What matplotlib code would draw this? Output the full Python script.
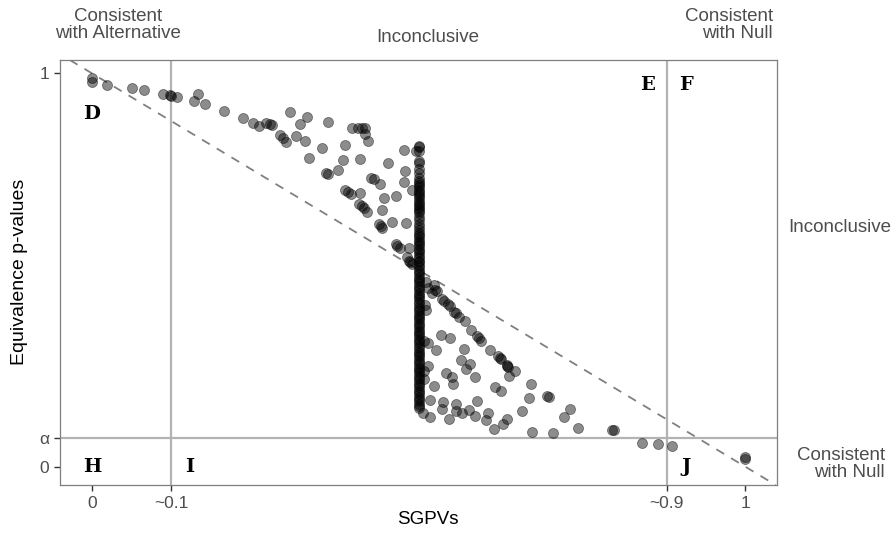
import matplotlib
matplotlib.use("Agg")
import matplotlib.pyplot as plt

plt.rcParams['font.family'] = ['Liberation Sans', 'DejaVu Sans']

# scattered points (SGPV, equivalence p-value)
sgpv = [0.0, 0.0, 0.0225, 0.061, 0.080, 0.109, 0.119, 0.121, 0.130, 0.163, 0.156, 0.173, 0.202,
        0.231, 0.246, 0.256, 0.266, 0.272, 0.276, 0.303, 0.330, 0.318, 0.288, 0.293, 0.297, 0.313,
        0.326, 0.361, 0.398, 0.408, 0.414, 0.418, 0.418, 0.422, 0.387, 0.352, 0.333, 0.385, 0.410,
        0.359, 0.361, 0.377, 0.478, 0.454, 0.479, 0.428, 0.432, 0.441, 0.478, 0.388, 0.392, 0.396,
        0.410, 0.447, 0.466, 0.409, 0.413, 0.416, 0.421, 0.444, 0.440, 0.442, 0.444, 0.459, 0.481,
        0.496, 0.490, 0.465, 0.467, 0.472, 0.485, 0.482, 0.485, 0.487, 0.490,
        0.523, 0.520, 0.526, 0.528, 0.536, 0.539, 0.545, 0.548, 0.555, 0.558, 0.562, 0.571, 0.581,
        0.589, 0.592, 0.595, 0.610, 0.622, 0.625, 0.627, 0.635, 0.636, 0.637, 0.648, 0.638,
        0.511, 0.515, 0.510, 0.511,
        0.534, 0.549, 0.508, 0.515, 0.527, 0.570, 0.565, 0.579, 0.573, 0.542, 0.551, 0.553, 0.587,
        0.515, 0.508, 0.508, 0.523, 0.617, 0.627, 0.672, 0.669, 0.697, 0.700, 0.518, 0.538, 0.558,
        0.589, 0.507, 0.518, 0.536, 0.546, 0.557, 0.566, 0.577, 0.587, 0.607, 0.603, 0.616, 0.630,
        0.636, 0.658, 0.674, 0.706, 0.723, 0.732, 0.745, 0.797, 0.800, 0.842, 0.866, 0.888, 1.0, 1.0]
pval = [0.987, 0.977, 0.970, 0.962, 0.957, 0.947, 0.944, 0.942, 0.941, 0.947, 0.930, 0.921, 0.905,
        0.886, 0.875, 0.867, 0.875, 0.871, 0.868, 0.902, 0.890, 0.871, 0.843, 0.835, 0.826, 0.841,
        0.828, 0.877, 0.860, 0.862, 0.862, 0.860, 0.846, 0.828, 0.819, 0.809, 0.784, 0.780, 0.781,
        0.747, 0.745, 0.754, 0.805, 0.773, 0.752, 0.735, 0.731, 0.718, 0.724, 0.704, 0.698, 0.693,
        0.695, 0.684, 0.688, 0.669, 0.663, 0.657, 0.648, 0.652, 0.616, 0.612, 0.607, 0.621, 0.619,
        0.803, 0.703, 0.566, 0.561, 0.555, 0.557, 0.534, 0.523, 0.519, 0.514,
        0.462, 0.441, 0.450, 0.447, 0.426, 0.422, 0.413, 0.409, 0.394, 0.390, 0.381, 0.369, 0.347,
        0.331, 0.327, 0.320, 0.297, 0.280, 0.276, 0.273, 0.258, 0.256, 0.254, 0.242, 0.229,
        0.470, 0.455, 0.411, 0.398,
        0.335, 0.326, 0.320, 0.314, 0.297, 0.299, 0.271, 0.260, 0.248, 0.239, 0.227, 0.209, 0.227,
        0.256, 0.243, 0.222, 0.205, 0.203, 0.192, 0.209, 0.174, 0.180, 0.176, 0.170, 0.163, 0.159,
        0.167, 0.137, 0.127, 0.146, 0.121, 0.140, 0.136, 0.144, 0.129, 0.137, 0.119, 0.096, 0.109,
        0.120, 0.140, 0.089, 0.086, 0.127, 0.146, 0.098, 0.094, 0.092, 0.059, 0.058, 0.053, 0.023, 0.019]

# the stack of results with SGPV = 0.5
col_pval = [0.815, 0.812, 0.803, 0.776, 0.773, 0.756, 0.747,
            0.733, 0.727, 0.721, 0.716, 0.710, 0.704, 0.699, 0.693, 0.688, 0.682, 0.676, 0.671,
            0.665, 0.660, 0.654, 0.649, 0.644, 0.635, 0.626, 0.618, 0.609,
            0.601, 0.595, 0.589, 0.583, 0.577, 0.571, 0.566, 0.560, 0.554, 0.548, 0.542, 0.536,
            0.530, 0.524, 0.519, 0.513, 0.507, 0.501, 0.495, 0.489, 0.483, 0.477, 0.472, 0.466,
            0.460, 0.454, 0.448, 0.442, 0.436, 0.430, 0.425, 0.419, 0.413, 0.407, 0.401, 0.395,
            0.389, 0.383, 0.378, 0.372, 0.366, 0.360, 0.354, 0.348, 0.342, 0.336, 0.331, 0.325,
            0.319, 0.313, 0.307, 0.301, 0.295, 0.289, 0.284, 0.278, 0.272, 0.266, 0.260, 0.254,
            0.248, 0.242, 0.237, 0.231, 0.225, 0.219, 0.213, 0.207, 0.201, 0.195, 0.190, 0.184,
            0.178, 0.172, 0.166, 0.160, 0.155, 0.150]
col_sgpv = [0.5] * len(col_pval)

alpha_level = 0.072
sgpv_low, sgpv_high = 0.121, 0.88
x_ticks = [0, sgpv_low, sgpv_high, 1]
x_labels = ['0', '~0.1', '~0.9', '1']
y_ticks = [0, alpha_level, 1]
y_labels = ['0', 'α', '1']

regions = ['D', 'E', 'F', 'H', 'I', 'J']
region_x = [0.0, 0.85, 0.91, 0.0, 0.15, 0.91]
region_y = [0.897, 0.971, 0.971, 0.0, 0.0, 0.0]

fig = plt.figure(figsize=(8.93, 5.4), dpi=100)
ax = fig.add_axes([60/893, 1 - 485/540, 717/893, 425/540])

ref_col = '#b3b3b3'
ax.axvline(sgpv_low, color=ref_col, lw=1.6, zorder=1)
ax.axvline(sgpv_high, color=ref_col, lw=1.6, zorder=1)
ax.axhline(alpha_level, color=ref_col, lw=1.6, zorder=1)
ax.axline((0, 1), slope=-1, color='#808080', lw=1.3, dashes=(5, 4.5), zorder=1)

ax.scatter(sgpv + col_sgpv, pval + col_pval, s=52, facecolor='black', edgecolor='black',
           linewidths=0.6, alpha=0.45, zorder=2)

for lab, x, y in zip(regions, region_x, region_y):
    ax.text(x, y, lab, family='DejaVu Serif', fontweight='heavy', fontsize=14,
            ha='center', va='center', zorder=3)

ax.set_xlim(-0.049, 1.049)
ax.set_ylim(-0.047, 1.034)
ax.set_xticks(x_ticks)
ax.set_xticklabels(x_labels)
ax.set_yticks(y_ticks)
ax.set_yticklabels(y_labels)
ax.tick_params(length=4, width=1, color='#333333', labelcolor='#4d4d4d', labelsize=12.5, pad=4)
for sp in ax.spines.values():
    sp.set_color('#7f7f7f')
    sp.set_linewidth(0.9)

fig.text(20/893, 1 - 272/540, 'Equivalence p-values', rotation=90, ha='center', va='center', fontsize=14)
fig.text(428/893, 1 - 520/540, 'SGPVs', ha='center', va='center', fontsize=13.5)

txt = dict(color='#4d4d4d', fontsize=13.5, linespacing=1.05)
fig.text(118/893, 1 - 25/540, 'Consistent\nwith Alternative', ha='center', va='center', **txt)
fig.text(428/893, 1 - 37/540, 'Inconclusive', ha='center', va='center', **txt)
fig.text(773/893, 1 - 25/540, 'Consistent\nwith Null', ha='right', va='center', multialignment='right', **txt)
fig.text(788/893, 1 - 227/540, 'Inconclusive', ha='left', va='center', **txt)
fig.text(885/893, 1 - 464/540, 'Consistent\nwith Null', ha='right', va='center', multialignment='right', **txt)

fig.savefig('out.png', dpi=100, facecolor='white')
